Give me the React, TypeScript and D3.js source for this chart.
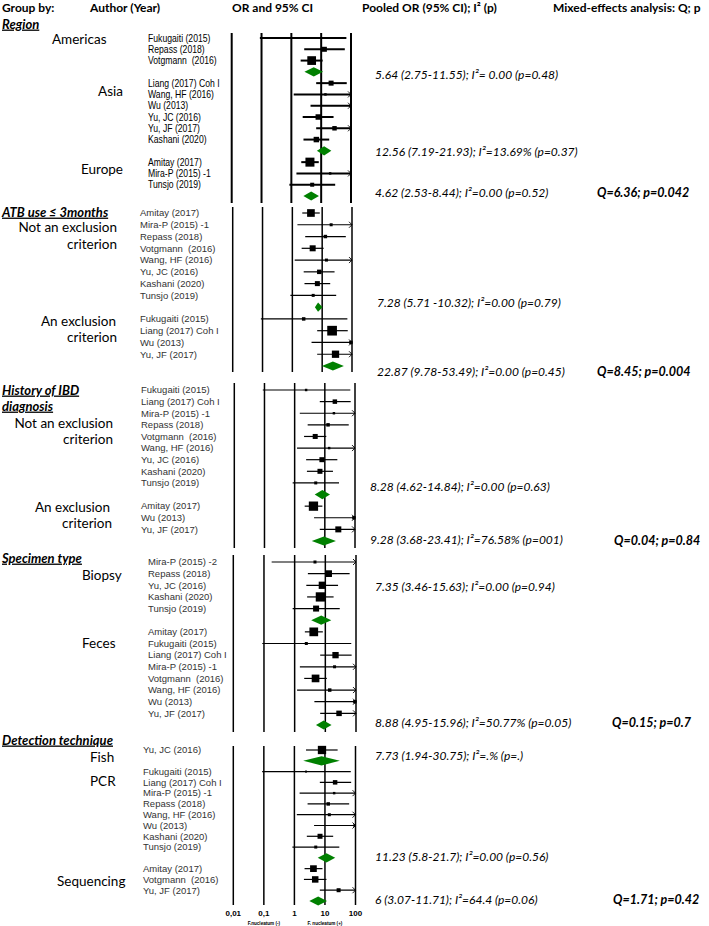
import React from 'react';
import * as d3 from 'd3';

const W = 709;
const H = 926;

// ---- Study-level estimates (OR, lower, upper) ----
const studyNames = [
  'Fukugaiti (2015)', 'Repass (2018)', 'Votgmann  (2016)', 'Liang (2017) Coh I',
  'Wang, HF (2016)', 'Wu (2013)', 'Yu, JC (2016)', 'Yu, JF (2017)', 'Kashani (2020)',
  'Amitay (2017)', 'Mira-P (2015) -1', 'Mira-P (2015) -2', 'Tunsjo (2019)',
];
const studyOR = [2.4, 12.8, 4.8, 21.5, 13.9, 92, 8.0, 28, 6.9, 4.2, 20, 4.6, 5.0];
const studyLo = [0.088, 2.7, 2.05, 6.8, 1.2, 4.4, 2.4, 6.8, 2.55, 2.15, 1.48, 0.178, 0.86];
const studyHi = [70, 62, 11.2, 72, 160, 1900, 26, 125, 18.6, 8.3, 270, 120, 29.5];

// ---- Section: Region ----
const regionGroups = ['Americas', 'Asia', 'Europe'];
const regionMembers = [
  ['Fukugaiti (2015)', 'Repass (2018)', 'Votgmann  (2016)'],
  ['Liang (2017) Coh I', 'Wang, HF (2016)', 'Wu (2013)', 'Yu, JC (2016)', 'Yu, JF (2017)', 'Kashani (2020)'],
  ['Amitay (2017)', 'Mira-P (2015) -1', 'Tunsjo (2019)'],
];
const regionWeights = [[4, 25, 76], [25, 6, 4, 30, 20, 30], [81, 6, 16]];
const regionPooled = [[5.64, 2.75, 11.55], [12.56, 7.19, 21.93], [4.62, 2.53, 8.44]];
const regionPooledText = [
  '5.64 (2.75-11.55); I²= 0.00 (p=0.48)',
  '12.56 (7.19-21.93); I²=13.69% (p=0.37)',
  '4.62 (2.53-8.44); I²=0.00 (p=0.52)',
];
const regionTest = 'Q=6.36; p=0.042';

// ---- Section: ATB use ----
const atbGroups = ['Not an exclusion criterion', 'An exclusion criterion'];
const atbMembers = [
  ['Amitay (2017)', 'Mira-P (2015) -1', 'Repass (2018)', 'Votgmann  (2016)', 'Wang, HF (2016)', 'Yu, JC (2016)', 'Kashani (2020)', 'Tunsjo (2019)'],
  ['Fukugaiti (2015)', 'Liang (2017) Coh I', 'Wu (2013)', 'Yu, JF (2017)'],
];
const atbWeights = [[59, 9, 12, 36, 9, 20, 25, 9], [12, 94, 12, 53]];
const atbPooled = [[7.28, 5.71, 10.32], [22.87, 9.78, 53.49]];
const atbPooledText = [
  '7.28 (5.71 -10.32); I²=0.00 (p=0.79)',
  '22.87 (9.78-53.49); I²=0.00 (p=0.45)',
];
const atbTest = 'Q=8.45; p=0.004';

// ---- Section: History of IBD ----
const ibdGroups = ['Not an exclusion criterion', 'An exclusion criterion'];
const ibdMembers = [
  ['Fukugaiti (2015)', 'Liang (2017) Coh I', 'Mira-P (2015) -1', 'Repass (2018)', 'Votgmann  (2016)', 'Wang, HF (2016)', 'Yu, JC (2016)', 'Kashani (2020)', 'Tunsjo (2019)'],
  ['Amitay (2017)', 'Wu (2013)', 'Yu, JF (2017)'],
];
const ibdWeights = [[6, 20, 6, 12, 25, 6, 25, 25, 9], [86, 12, 36]];
const ibdPooled = [[8.28, 4.62, 14.84], [9.28, 3.68, 23.41]];
const ibdPooledText = [
  '8.28 (4.62-14.84); I²=0.00 (p=0.63)',
  '9.28 (3.68-23.41); I²=76.58% (p=001)',
];
const ibdTest = 'Q=0.04; p=0.84';

// ---- Section: Specimen type ----
const specGroups = ['Biopsy', 'Feces'];
const specMembers = [
  ['Mira-P (2015) -2', 'Repass (2018)', 'Yu, JC (2016)', 'Kashani (2020)', 'Tunsjo (2019)'],
  ['Amitay (2017)', 'Fukugaiti (2015)', 'Liang (2017) Coh I', 'Mira-P (2015) -1', 'Votgmann  (2016)', 'Wang, HF (2016)', 'Wu (2013)', 'Yu, JF (2017)'],
];
const specWeights = [[9, 45, 53, 86, 36], [76, 9, 40, 9, 59, 12, 12, 30]];
const specPooled = [[7.35, 3.46, 15.63], [8.88, 4.95, 15.96]];
const specPooledText = [
  '7.35 (3.46-15.63); I²=0.00 (p=0.94)',
  '8.88 (4.95-15.96); I²=50.77% (p=0.05)',
];
const specTest = 'Q=0.15; p=0.7';

// ---- Section: Detection technique ----
const detGroups = ['Fish', 'PCR', 'Sequencing'];
const detMembers = [
  ['Yu, JC (2016)'],
  ['Fukugaiti (2015)', 'Liang (2017) Coh I', 'Mira-P (2015) -1', 'Repass (2018)', 'Wang, HF (2016)', 'Wu (2013)', 'Kashani (2020)', 'Tunsjo (2019)'],
  ['Amitay (2017)', 'Votgmann  (2016)', 'Yu, JF (2017)'],
];
const detWeights = [[69], [4, 20, 6, 12, 9, 6, 25, 9], [45, 42, 16]];
const detPooled = [[7.73, 1.94, 30.75], [11.23, 5.8, 21.7], [6, 3.07, 11.71]];
const detPooledText = [
  '7.73 (1.94-30.75); I²=.% (p=.)',
  '11.23 (5.8-21.7); I²=0.00 (p=0.56)',
  '6 (3.07-11.71); I²=64.4 (p=0.06)',
];
const detTest = 'Q=1.71; p=0.42';

const headers = ['Group by:', 'Author (Year)', 'OR and 95% CI', 'Pooled OR (95% CI); I² (p)', 'Mixed-effects analysis: Q; p'];
const tickValues = [0.01, 0.1, 1, 10, 100];
const tickLabels = ['0,01', '0,1', '1', '10', '100'];
const axisSubLabels = ['F.nucleatum (-)', 'F. nucleatum (+)'];
const axisSubAt = [0.1, 10];

// ---- Layout (positions / styles) ----
const CAL = "Lato, 'Open Sans', sans-serif";
const ARIAL = "'Liberation Sans', Arial, sans-serif";
const GREEN = '#008000';

type Label = { text: string; x: number; r: number; anchor: 'start' | 'end' };
type Layout = {
  x0: number; x1: number; top: number; bottom: number; y0: number; y1: number;
  nameX: number; nameSize: number; nameColor: string; nameScale: number;
  stroke: number; gridStroke: number;
  titles: { text: string; r: number }[];
  labels: Label[];
  textRows: number[]; textX: number; testX: number;
};

const layouts: Layout[] = [
  {
    x0: 231.7, x1: 351, top: 33, bottom: 203, y0: 38, y1: 196,
    nameX: 148, nameSize: 10.3, nameColor: '#000', nameScale: 0.84,
    stroke: 2, gridStroke: 2,
    titles: [{ text: 'Region', r: -1.24 }],
    labels: [
      { text: 'Americas', x: 52, r: 0.1, anchor: 'start' },
      { text: 'Asia', x: 123, r: 4.7, anchor: 'end' },
      { text: 'Europe', x: 123, r: 11.6, anchor: 'end' },
    ],
    textRows: [3.28, 10.1, 13.73], textX: 375, testX: 597,
  },
  {
    x0: 232.7, x1: 352, top: 207, bottom: 372, y0: 213, y1: 366,
    nameX: 140, nameSize: 9.5, nameColor: '#333', nameScale: 1,
    stroke: 1.2, gridStroke: 1.5,
    titles: [{ text: 'ATB use ≤ 3months', r: -0.08 }],
    labels: [
      { text: 'Not an exclusion', x: 117, r: 1.19, anchor: 'end' },
      { text: 'criterion', x: 117, r: 2.63, anchor: 'end' },
      { text: 'An exclusion', x: 116, r: 9.18, anchor: 'end' },
      { text: 'criterion', x: 117, r: 10.54, anchor: 'end' },
    ],
    textRows: [7.65, 13.5], textX: 377, testX: 597,
  },
  {
    x0: 234.3, x1: 355, top: 383, bottom: 548, y0: 390, y1: 541,
    nameX: 141, nameSize: 9.5, nameColor: '#333', nameScale: 1,
    stroke: 1.2, gridStroke: 1.5,
    titles: [{ text: 'History of IBD', r: 0 }, { text: 'diagnosis', r: 1.38 }],
    labels: [
      { text: 'Not an exclusion', x: 113, r: 2.84, anchor: 'end' },
      { text: 'criterion', x: 113, r: 4.22, anchor: 'end' },
      { text: 'An exclusion', x: 110, r: 10.1, anchor: 'end' },
      { text: 'criterion', x: 112, r: 11.47, anchor: 'end' },
    ],
    textRows: [8.36, 12.93], textX: 370, testX: 614,
  },
  {
    x0: 233.3, x1: 356, top: 555, bottom: 732, y0: 562, y1: 725,
    nameX: 148, nameSize: 9.5, nameColor: '#333', nameScale: 1,
    stroke: 1.2, gridStroke: 1.5,
    titles: [{ text: 'Specimen type', r: -0.34 }],
    labels: [
      { text: 'Biopsy', x: 82, r: 1.12, anchor: 'start' },
      { text: 'Feces', x: 82, r: 6.96, anchor: 'start' },
    ],
    textRows: [2.15, 13.83], textX: 375, testX: 612,
  },
  {
    x0: 233.3, x1: 355.5, top: 746, bottom: 905, y0: 750, y1: 901,
    nameX: 143, nameSize: 9.5, nameColor: '#333', nameScale: 1,
    stroke: 1.2, gridStroke: 1.5,
    titles: [{ text: 'Detection technique', r: -0.93 }],
    labels: [
      { text: 'Fish', x: 90, r: 0.65, anchor: 'start' },
      { text: 'PCR', x: 90, r: 2.87, anchor: 'start' },
      { text: 'Sequencing', x: 57, r: 12.2, anchor: 'start' },
    ],
    textRows: [0.56, 9.9, 13.9], textX: 375, testX: 613,
  },
];

const sectionData = [
  { groups: regionGroups, members: regionMembers, weights: regionWeights, pooled: regionPooled, texts: regionPooledText, test: regionTest },
  { groups: atbGroups, members: atbMembers, weights: atbWeights, pooled: atbPooled, texts: atbPooledText, test: atbTest },
  { groups: ibdGroups, members: ibdMembers, weights: ibdWeights, pooled: ibdPooled, texts: ibdPooledText, test: ibdTest },
  { groups: specGroups, members: specMembers, weights: specWeights, pooled: specPooled, texts: specPooledText, test: specTest },
  { groups: detGroups, members: detMembers, weights: detWeights, pooled: detPooled, texts: detPooledText, test: detTest },
];

const sizeScale = d3.scaleSqrt().domain([0, 100]).range([0, 10]);

function Section({ data, L }: { data: typeof sectionData[0]; L: Layout }) {
  const nRows = data.members.reduce((s, m) => s + m.length + 1, 0);
  const x = d3.scaleLog().domain([0.01, 100]).range([L.x0, L.x1]).clamp(true);
  const y = d3.scaleLinear().domain([0, nRows - 1]).range([L.y0, L.y1]);
  const els: React.ReactNode[] = [];
  let row = 0;
  data.members.forEach((grp, gi) => {
    grp.forEach((name, si) => {
      const k = studyNames.indexOf(name);
      const or = studyOR[k], lo = studyLo[k], hi = studyHi[k];
      const yy = y(row);
      const side = sizeScale(data.weights[gi][si]);
      els.push(
        <g key={`s${gi}-${si}`}>
          <text transform={`translate(${L.nameX},${yy}) scale(${L.nameScale},1)`} dy="0.35em" fontFamily={ARIAL}
            fontSize={L.nameSize} fill={L.nameColor} style={{ whiteSpace: 'pre' }}>{name}</text>
          <line x1={x(lo)} x2={x(hi)} y1={yy} y2={yy} stroke="#000" strokeWidth={L.stroke} />
          {hi > 100 && (
            <path d={`M${x(100) - 3},${yy - 3}L${x(100)},${yy}L${x(100) - 3},${yy + 3}`}
              fill="none" stroke="#000" strokeWidth={0.9} />
          )}
          <rect x={x(or) - side / 2} y={yy - side / 2} width={side} height={side} fill="#000" />
        </g>
      );
      row++;
    });
    const [por, plo, phi] = data.pooled[gi];
    const yd = y(row);
    const h = 4.6;
    els.push(
      <path key={`d${gi}`} d={`M${x(plo)},${yd}L${x(por)},${yd - h}L${x(phi)},${yd}L${x(por)},${yd + h}Z`} fill={GREEN} />
    );
    row++;
  });
  return (
    <g>
      {tickValues.map((t) => (
        <line key={`g${t}`} x1={x(t)} x2={x(t)} y1={L.top} y2={L.bottom} stroke="#000" strokeWidth={L.gridStroke} />
      ))}
      {els}
      {L.titles.map((t, i) => (
        <text key={`t${i}`} x={2} y={y(t.r)} dy="0.35em" fontFamily={CAL} fontSize={13} fontWeight="bold"
          fontStyle="italic" textDecoration="underline" fill="#000">{t.text}</text>
      ))}
      {L.labels.map((l, i) => (
        <text key={`l${i}`} x={l.x} y={y(l.r)} dy="0.35em" fontFamily={CAL} fontSize={13.5} textAnchor={l.anchor} fill="#000">{l.text}</text>
      ))}
      {data.texts.map((t, i) => (
        <text key={`p${i}`} x={L.textX} y={y(L.textRows[i])} dy="0.35em" fontFamily={CAL} fontSize={12} fontStyle="italic" fill="#000">{t}</text>
      ))}
      <text x={L.testX} y={y(L.textRows[L.textRows.length - 1])} dy="0.35em" fontFamily={CAL} fontSize={12.5}
        fontStyle="italic" fontWeight="bold" fill="#000">{data.test}</text>
    </g>
  );
}

export default function App() {
  const last = layouts[layouts.length - 1];
  const xAxis = d3.scaleLog().domain([0.01, 100]).range([last.x0, last.x1]);
  const headerX = [2, 90, 232, 362, 553];
  return (
    <svg width={W} height={H} style={{ position: 'absolute', left: 0, top: 0, background: '#fff' }}>
      <rect width={W} height={H} fill="#fff" />
      {headers.map((h, i) => (
        <text key={h} x={headerX[i]} y={8} dy="0.35em" fontFamily={CAL} fontSize={12} fontWeight="bold" fill="#000">{h}</text>
      ))}
      {sectionData.map((d, i) => (
        <Section key={i} data={d} L={layouts[i]} />
      ))}
      {tickValues.map((t, i) => (
        <text key={`a${t}`} x={xAxis(t)} y={913} dy="0.35em" textAnchor="middle" fontFamily={ARIAL}
          fontSize={8} fontWeight="bold" fill="#000">{tickLabels[i]}</text>
      ))}
      {axisSubLabels.map((s, i) => (
        <text key={s} x={xAxis(axisSubAt[i])} y={923} dy="0.35em" textAnchor="middle" fontFamily={ARIAL}
          fontSize={4.6} fontWeight="bold" fill="#000">{s}</text>
      ))}
    </svg>
  );
}
